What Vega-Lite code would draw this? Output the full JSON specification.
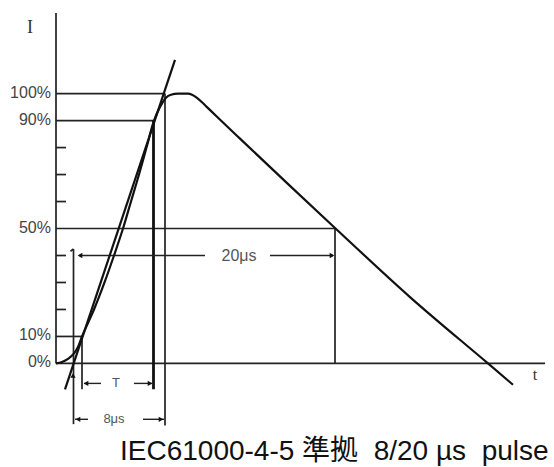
{
  "$schema": "https://vega.github.io/schema/vega-lite/v6.json",
  "width": 554,
  "height": 467,
  "padding": 0,
  "autosize": {"type": "fit", "contains": "padding"},
  "config": {"view": {"stroke": null}},
  "datasets": {
    "guides": [
      {"role": "axis", "x": 56, "x2": 56, "I": 0, "I2": 129.9},
      {"role": "axis", "x": 56, "x2": 545, "I": 0, "I2": 0},
      {"role": "level", "x": 56, "x2": 165, "I": 100, "I2": 100},
      {"role": "level", "x": 56, "x2": 154, "I": 90, "I2": 90},
      {"role": "level", "x": 56, "x2": 335, "I": 50, "I2": 50},
      {"role": "level", "x": 56, "x2": 82, "I": 10, "I2": 10},
      {"role": "tick", "x": 56, "x2": 66, "I": 20, "I2": 20},
      {"role": "tick", "x": 56, "x2": 66, "I": 30, "I2": 30},
      {"role": "tick", "x": 56, "x2": 66, "I": 40, "I2": 40},
      {"role": "tick", "x": 56, "x2": 66, "I": 60, "I2": 60},
      {"role": "tick", "x": 56, "x2": 66, "I": 70, "I2": 70},
      {"role": "tick", "x": 56, "x2": 66, "I": 80, "I2": 80},
      {"role": "level", "x": 73.5, "x2": 73.5, "I": 42.4, "I2": -22.5},
      {"role": "level", "x": 70.5, "x2": 73.5, "I": 41.6, "I2": 42.4},
      {"role": "level", "x": 82, "x2": 82, "I": 10, "I2": -9.6},
      {"role": "level", "x": 165, "x2": 165, "I": 100, "I2": -23},
      {"role": "level", "x": 335, "x2": 335, "I": 50, "I2": 0},
      {"role": "front", "x": 153.5, "x2": 153.5, "I": 90, "I2": -9.6},
      {"role": "dim", "x": 79, "x2": 205, "I": 40, "I2": 40},
      {"role": "dim", "x": 270, "x2": 333, "I": 40, "I2": 40},
      {"role": "dim", "x": 84, "x2": 101, "I": -7.4, "I2": -7.4},
      {"role": "dim", "x": 134, "x2": 152, "I": -7.4, "I2": -7.4},
      {"role": "dim", "x": 75, "x2": 88, "I": -20.7, "I2": -20.7},
      {"role": "dim", "x": 143, "x2": 164, "I": -20.7, "I2": -20.7}
    ],
    "waveform": [
      {"x": 56, "I": 0},
      {"x": 62, "I": 0.55},
      {"x": 68, "I": 1.7},
      {"x": 74, "I": 3.7},
      {"x": 78, "I": 6.1},
      {"x": 82, "I": 10},
      {"x": 88, "I": 15},
      {"x": 94, "I": 20},
      {"x": 104.5, "I": 30},
      {"x": 114, "I": 40},
      {"x": 123, "I": 50},
      {"x": 131, "I": 60},
      {"x": 139, "I": 70},
      {"x": 146.5, "I": 80},
      {"x": 154, "I": 90},
      {"x": 160, "I": 95},
      {"x": 166, "I": 98.5},
      {"x": 171, "I": 99.6},
      {"x": 178, "I": 100},
      {"x": 188, "I": 100},
      {"x": 192, "I": 99.6},
      {"x": 197, "I": 98.4},
      {"x": 202, "I": 96.8},
      {"x": 207, "I": 95.0},
      {"x": 217, "I": 91.4},
      {"x": 240, "I": 83.3},
      {"x": 290, "I": 65.8},
      {"x": 335, "I": 50.2},
      {"x": 410, "I": 24.6},
      {"x": 488, "I": 0},
      {"x": 513, "I": -7.9}
    ],
    "tangent": [
      {"x": 65, "I": -9.6},
      {"x": 175, "I": 112.5}
    ],
    "arrows": [
      {"x": 80, "I": 40, "dir": "left"},
      {"x": 332, "I": 40, "dir": "right"},
      {"x": 86, "I": -7.4, "dir": "left"},
      {"x": 150, "I": -7.4, "dir": "right"},
      {"x": 78, "I": -20.7, "dir": "left"},
      {"x": 161, "I": -20.7, "dir": "right"},
      {"x": 73, "I": -4.5, "dir": "up"}
    ],
    "ylabels": [
      {"I": 100, "label": "100%"},
      {"I": 90, "label": "90%"},
      {"I": 50, "label": "50%"},
      {"I": 10, "label": "10%"},
      {"I": 0, "label": "0%"}
    ],
    "dimlabels": [
      {"x": 239, "I": 40, "label": "20μs", "size": "l"},
      {"x": 116, "I": -7.4, "label": "T", "size": "s"},
      {"x": 114, "I": -20.7, "label": "8μs", "size": "s"}
    ]
  },
  "layer": [
    {
      "data": {"name": "guides"},
      "transform": [{"filter": "datum.role === 'axis' || datum.role === 'level' || datum.role === 'tick'"}],
      "mark": {"type": "rule", "color": "#222", "strokeWidth": 1.7},
      "encoding": {
        "x": {"field": "x", "type": "quantitative", "scale": {"domain": [0, 554], "nice": false, "zero": false}, "axis": null},
        "x2": {"field": "x2"},
        "y": {"field": "I", "type": "quantitative", "scale": {"domain": [-37.64, 134.69], "nice": false, "zero": false}, "axis": null},
        "y2": {"field": "I2"}
      }
    },
    {
      "data": {"name": "guides"},
      "transform": [{"filter": "datum.role === 'front'"}],
      "mark": {"type": "rule", "color": "#111", "strokeWidth": 2.8},
      "encoding": {
        "x": {"field": "x", "type": "quantitative"},
        "x2": {"field": "x2"},
        "y": {"field": "I", "type": "quantitative"},
        "y2": {"field": "I2"}
      }
    },
    {
      "data": {"name": "guides"},
      "transform": [{"filter": "datum.role === 'dim'"}],
      "mark": {"type": "rule", "color": "#222", "strokeWidth": 1.4},
      "encoding": {
        "x": {"field": "x", "type": "quantitative"},
        "x2": {"field": "x2"},
        "y": {"field": "I", "type": "quantitative"},
        "y2": {"field": "I2"}
      }
    },
    {
      "data": {"name": "tangent"},
      "mark": {"type": "line", "color": "#111", "strokeWidth": 2.2},
      "encoding": {
        "x": {"field": "x", "type": "quantitative"},
        "y": {"field": "I", "type": "quantitative"}
      }
    },
    {
      "data": {"name": "waveform"},
      "mark": {"type": "line", "color": "#111", "strokeWidth": 2.2, "interpolate": "monotone"},
      "encoding": {
        "x": {"field": "x", "type": "quantitative"},
        "y": {"field": "I", "type": "quantitative"}
      }
    },
    {
      "data": {"name": "arrows"},
      "mark": {"type": "point", "filled": true, "color": "#111", "opacity": 1, "size": 28},
      "encoding": {
        "x": {"field": "x", "type": "quantitative"},
        "y": {"field": "I", "type": "quantitative"},
        "shape": {"field": "dir", "type": "nominal", "scale": {"domain": ["left", "right", "up"], "range": ["triangle-left", "triangle-right", "triangle-up"]}, "legend": null}
      }
    },
    {
      "data": {"name": "ylabels"},
      "mark": {"type": "text", "align": "right", "baseline": "middle", "font": "Liberation Sans", "fontSize": 16, "color": "#444", "dy": -1},
      "encoding": {
        "x": {"datum": 51, "type": "quantitative"},
        "y": {"field": "I", "type": "quantitative"},
        "text": {"field": "label"}
      }
    },
    {
      "data": {"name": "dimlabels"},
      "transform": [{"filter": "datum.size === 'l'"}],
      "mark": {"type": "text", "align": "center", "baseline": "middle", "font": "Liberation Sans", "fontSize": 16, "color": "#555"},
      "encoding": {
        "x": {"field": "x", "type": "quantitative"},
        "y": {"field": "I", "type": "quantitative"},
        "text": {"field": "label"}
      }
    },
    {
      "data": {"name": "dimlabels"},
      "transform": [{"filter": "datum.size === 's'"}],
      "mark": {"type": "text", "align": "center", "baseline": "middle", "font": "Liberation Sans", "fontSize": 13, "color": "#555"},
      "encoding": {
        "x": {"field": "x", "type": "quantitative"},
        "y": {"field": "I", "type": "quantitative"},
        "text": {"field": "label"}
      }
    },
    {
      "data": {"values": [{"x": 30, "I": 124.4, "label": "I"}]},
      "mark": {"type": "text", "align": "center", "baseline": "middle", "font": "Liberation Serif", "fontSize": 18, "color": "#333"},
      "encoding": {
        "x": {"field": "x", "type": "quantitative"},
        "y": {"field": "I", "type": "quantitative"},
        "text": {"field": "label"}
      }
    },
    {
      "data": {"values": [{"x": 535, "I": -4.4, "label": "t"}]},
      "mark": {"type": "text", "align": "center", "baseline": "middle", "font": "Liberation Serif", "fontSize": 16, "color": "#333"},
      "encoding": {
        "x": {"field": "x", "type": "quantitative"},
        "y": {"field": "I", "type": "quantitative"},
        "text": {"field": "label"}
      }
    },
    {
      "data": {"values": [{"x": 120, "I": -35.8, "label": "IEC61000-4-5 準拠\u00a0 8/20 µs\u00a0 pulse"}]},
      "mark": {"type": "text", "align": "left", "baseline": "alphabetic", "font": "Liberation Sans, Noto Sans CJK JP", "fontSize": 28, "color": "#111"},
      "encoding": {
        "x": {"field": "x", "type": "quantitative"},
        "y": {"field": "I", "type": "quantitative"},
        "text": {"field": "label"}
      }
    }
  ]
}
